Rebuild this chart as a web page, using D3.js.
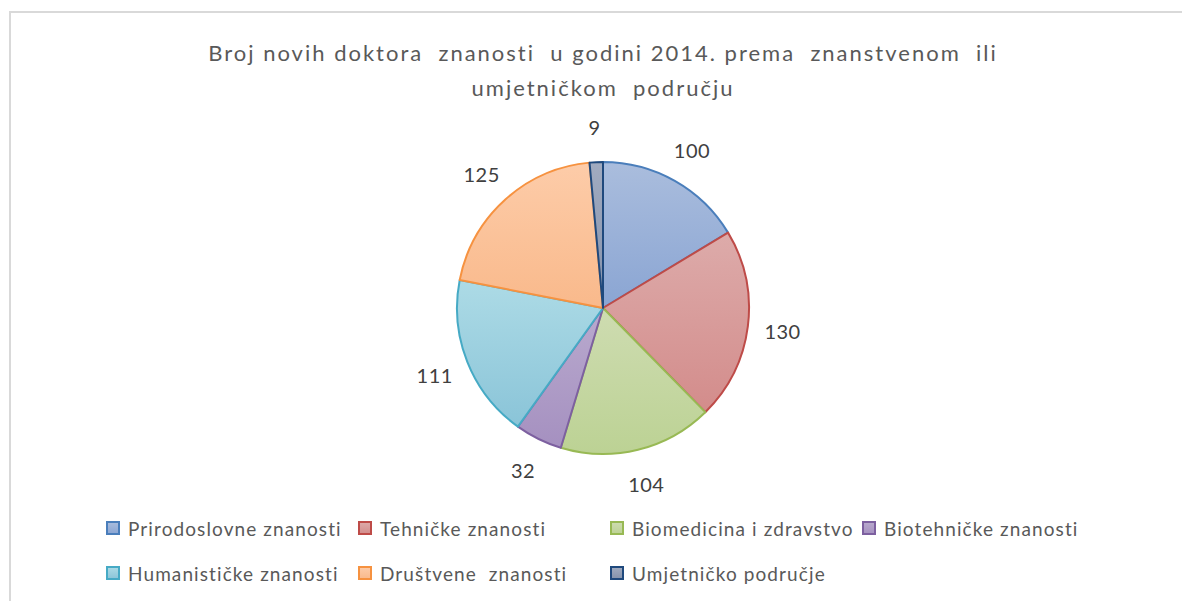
<!DOCTYPE html>
<html><head><meta charset="utf-8">
<script src="https://cdnjs.cloudflare.com/ajax/libs/d3/7.8.5/d3.min.js"></script>
<style>html,body{margin:0;padding:0;background:#fff;}svg{display:block;}</style>
</head><body>
<script>
const categories = ["Prirodoslovne znanosti","Tehničke znanosti","Biomedicina i zdravstvo","Biotehničke znanosti","Humanističke znanosti","Društvene  znanosti","Umjetničko područje"];
const values = [100,130,104,32,111,125,9];
const borderColors = ["#4A7EBB","#BE4B48","#98B954","#7D60A0","#46AAC5","#F69240","#1F497D"];
const lightColors = ["#aabddd","#ddabaa","#cedcb1","#b9aace","#addbe6","#fdcca9","#a1abc0"];
const darkColors  = ["#8aa5d3","#d38c8b","#bcd294","#a590c0","#8ac4d8","#f9b98b","#8592ab"];
const titleLines = ["Broj novih doktora  znanosti  u godini 2014. prema  znanstvenom  ili","umjetničkom  području"];

const W = 1182, H = 601;
const svg = d3.select("body").append("svg").attr("width", W).attr("height", H);

// chart area border
svg.append("rect").attr("x", 10).attr("y", 12).attr("width", W + 20).attr("height", H + 20)
  .attr("fill", "#fff").attr("stroke", "#d9d9d9").attr("stroke-width", 2);

// title
svg.append("g").selectAll("text").data(titleLines).join("text")
  .attr("x", 603).attr("y", (d, i) => 61 + i * 35)
  .attr("text-anchor", "middle")
  .attr("font-family", "Lato, 'Open Sans', sans-serif").attr("font-size", 22)
  .attr("letter-spacing", 2)
  .attr("fill", "#595959").style("white-space", "pre")
  .text(d => d);

// pie
const cx = 603, cy = 308, R = 146;
const pie = d3.pie().sort(null).value(d => d);
const arcs = pie(values);
const arc = d3.arc().innerRadius(0).outerRadius(R);
const labelArc = d3.arc().innerRadius(181).outerRadius(181);

const defs = svg.append("defs");
values.forEach((v, i) => {
  const g = defs.append("linearGradient").attr("id", "g" + i)
    .attr("x1", 0).attr("y1", 0).attr("x2", 0).attr("y2", 1);
  g.append("stop").attr("offset", "0%").attr("stop-color", lightColors[i]);
  g.append("stop").attr("offset", "100%").attr("stop-color", darkColors[i]);
});

const pg = svg.append("g").attr("transform", `translate(${cx},${cy})`);
pg.selectAll("path").data(arcs).join("path")
  .attr("d", arc)
  .attr("fill", (d, i) => `url(#g${i})`)
  .attr("stroke", (d, i) => borderColors[i])
  .attr("stroke-width", 2)
  .attr("stroke-linejoin", "round");

pg.selectAll("text").data(arcs).join("text")
  .attr("transform", d => `translate(${labelArc.centroid(d)})`)
  .attr("text-anchor", "middle").attr("dominant-baseline", "central")
  .attr("font-family", "Lato, 'Open Sans', sans-serif").attr("font-size", 20)
  .attr("letter-spacing", 0.5)
  .attr("fill", "#404040")
  .text(d => d.data);

// legend
const colX = d3.scalePoint().domain([0,1,2,3]).range([106, 862]);
const rowY = d3.scalePoint().domain([0,1]).range([528, 573]);
const lg = svg.append("g");
const items = lg.selectAll("g").data(categories).join("g")
  .attr("transform", (d, i) => `translate(${colX(i % 4)},${rowY(Math.floor(i / 4))})`);
items.append("rect").attr("x", 1).attr("y", -6).attr("width", 12).attr("height", 12)
  .attr("fill", (d, i) => `url(#g${i})`)
  .attr("stroke", (d, i) => borderColors[i]).attr("stroke-width", 2);
items.append("text").attr("x", 22).attr("y", 0).attr("dominant-baseline", "central")
  .attr("font-family", "Lato, 'Open Sans', sans-serif").attr("font-size", 19)
  .attr("letter-spacing", 1.1)
  .attr("fill", "#595959").style("white-space", "pre")
  .text(d => d);
</script>
</body></html>
